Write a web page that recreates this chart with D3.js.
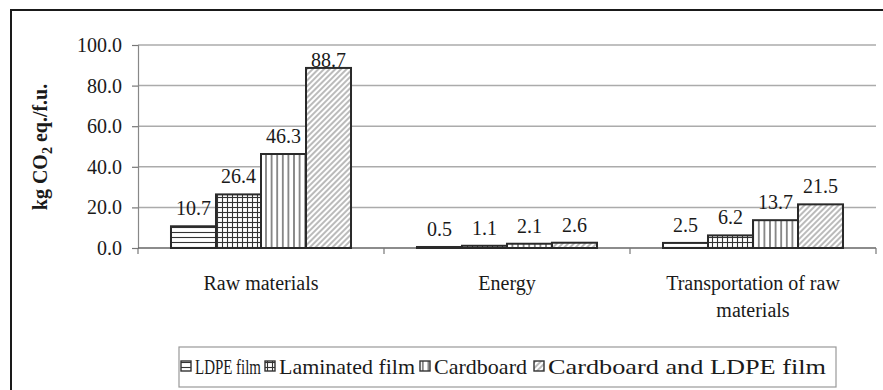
<!DOCTYPE html>
<html><head><meta charset="utf-8">
<script src="https://cdn.jsdelivr.net/npm/d3@7"></script>
<style>
body{margin:0;background:#fff}
svg{display:block}
text{font-family:"Liberation Serif","Times New Roman",Times,serif;fill:#1a1a1a}
</style>
</head><body>
<svg id="chart" width="883" height="390"></svg>
<script>
// ---- data ----
const categories = ["Raw materials", "Energy", "Transportation of raw materials"];
const categoryLines = [["Raw materials"], ["Energy"], ["Transportation of raw", "materials"]];
const seriesNames = ["LDPE film", "Laminated film", "Cardboard", "Cardboard and LDPE film"];
const ldpeFilm = [10.7, 0.5, 2.5];
const laminatedFilm = [26.4, 1.1, 6.2];
const cardboard = [46.3, 2.1, 13.7];
const cardboardLdpe = [88.7, 2.6, 21.5];
const yTicks = [0, 20, 40, 60, 80, 100];
const yTickLabels = ["0.0", "20.0", "40.0", "60.0", "80.0", "100.0"];

const seriesValues = [ldpeFilm, laminatedFilm, cardboard, cardboardLdpe];
const patternIds = ["pH", "pGrid", "pV", "pDiag"];

// ---- layout ----
const FONT = '"Liberation Serif","Times New Roman",Times,serif';
const plot = {left: 138, right: 876, top: 45, bottom: 248};
const svg = d3.select("#chart");

// patterns
const defs = svg.append("defs");
function pat(id, w, h, draw, transform) {
  const p = defs.append("pattern").attr("id", id).attr("patternUnits", "userSpaceOnUse")
    .attr("width", w).attr("height", h);
  if (transform) p.attr("patternTransform", transform);
  p.append("rect").attr("width", w).attr("height", h).attr("fill", "#fff");
  draw(p);
}
pat("pH", 6, 5, p => p.append("line").attr("x1", 0).attr("x2", 6).attr("y1", 2.5).attr("y2", 2.5).attr("stroke", "#333").attr("stroke-width", 1.1));
pat("pGrid", 5, 5, p => {
  p.append("line").attr("x1", 0).attr("x2", 5).attr("y1", 2.5).attr("y2", 2.5).attr("stroke", "#333").attr("stroke-width", 1.1);
  p.append("line").attr("y1", 0).attr("y2", 5).attr("x1", 2.5).attr("x2", 2.5).attr("stroke", "#333").attr("stroke-width", 1.1);
});
pat("pV", 5.6, 6, p => p.append("line").attr("y1", 0).attr("y2", 6).attr("x1", 2.8).attr("x2", 2.8).attr("stroke", "#333").attr("stroke-width", 1.1));
pat("pDiag", 4, 4, p => p.append("line").attr("y1", 0).attr("y2", 4).attr("x1", 2).attr("x2", 2).attr("stroke", "#777").attr("stroke-width", 1), "rotate(45)");

// outer frame (right/bottom edges run off the picture)
svg.append("rect").attr("x", 11).attr("y", 10).attr("width", 900).attr("height", 400)
  .attr("fill", "none").attr("stroke", "#1a1a1a").attr("stroke-width", 2);

// scales
const x0 = d3.scaleBand().domain(categories).range([plot.left, plot.right]).paddingInner(0).paddingOuter(0);
const x1 = d3.scaleBand().domain(seriesNames).range([0, x0.bandwidth()]).paddingInner(0).paddingOuter(0.733);
const y = d3.scaleLinear().domain([0, 100]).range([plot.bottom, plot.top]);

// gridlines
svg.append("g").selectAll("line").data(yTicks.filter(t => t > 0)).join("line")
  .attr("x1", plot.left).attr("x2", plot.right)
  .attr("y1", d => y(d)).attr("y2", d => y(d))
  .attr("stroke", "#ababab").attr("stroke-width", 1.5);

// y axis
const yAxis = d3.axisLeft(y).tickValues(yTicks).tickSize(6).tickPadding(10)
  .tickFormat((d, i) => yTickLabels[i]);
const gy = svg.append("g").attr("transform", `translate(${plot.left},0)`).call(yAxis)
  .attr("font-family", FONT);
gy.select(".domain").attr("stroke", "#888").attr("stroke-width", 1.2);
gy.selectAll(".tick line").attr("stroke", "#777").attr("stroke-width", 1.2);
gy.selectAll(".tick text").attr("font-size", 20).attr("font-family", FONT).attr("fill", "#1a1a1a");

// x axis
svg.append("line").attr("x1", plot.left).attr("x2", plot.right).attr("y1", plot.bottom).attr("y2", plot.bottom)
  .attr("stroke", "#666").attr("stroke-width", 1.5);
const boundaries = categories.map(c => x0(c)).concat([x0(categories[categories.length - 1]) + x0.bandwidth()]);
svg.append("g").selectAll("line").data(boundaries).join("line")
  .attr("x1", d => d).attr("x2", d => d).attr("y1", plot.bottom).attr("y2", plot.bottom + 6)
  .attr("stroke", "#777").attr("stroke-width", 1.2);

// category labels
categories.forEach((c, i) => {
  const cx = x0(c) + x0.bandwidth() / 2;
  const t = svg.append("text").attr("text-anchor", "middle").attr("font-size", 20)
    .attr("font-family", FONT).attr("x", cx).attr("y", 290);
  categoryLines[i].forEach((ln, k) => {
    t.append("tspan").attr("x", cx).attr("dy", k === 0 ? 0 : 27).text(ln);
  });
});

// bars
const barData = [];
seriesNames.forEach((s, si) => {
  categories.forEach((c, ci) => barData.push({s, si, c, v: seriesValues[si][ci]}));
});
svg.append("g").selectAll("rect").data(barData).join("rect")
  .attr("x", d => x0(d.c) + x1(d.s))
  .attr("width", x1.bandwidth())
  .attr("y", d => y(d.v))
  .attr("height", d => y(0) - y(d.v))
  .attr("fill", d => `url(#${patternIds[d.si]})`)
  .attr("stroke", "#2a2a2a").attr("stroke-width", 2);

// value labels
svg.append("g").selectAll("text").data(barData).join("text")
  .attr("text-anchor", "middle").attr("font-size", 20).attr("font-family", FONT)
  .attr("x", d => x0(d.c) + x1(d.s) + x1.bandwidth() / 2)
  .attr("y", d => Math.max(y(d.v) - 11, plot.top + 22))
  .text(d => d.v.toFixed(1));

// y axis title
const yt = svg.append("text").attr("transform", "translate(47,147) rotate(-90)")
  .attr("text-anchor", "middle").attr("font-size", 20).attr("font-weight", "bold").attr("font-family", FONT);
yt.append("tspan").text("kg CO");
yt.append("tspan").attr("font-size", 14).attr("dy", 5).text("2");
yt.append("tspan").attr("dy", -5).text(" eq./f.u.");

// legend
const legendBox = {x: 179, y: 347, w: 657, h: 40};
svg.append("rect").attr("x", legendBox.x).attr("y", legendBox.y).attr("width", legendBox.w).attr("height", legendBox.h)
  .attr("fill", "#fff").attr("stroke", "#999").attr("stroke-width", 1.2);
const legendTextX = [195, 279, 434, 548];
const legendTextLen = [66, 136, 93, 278];
const lg = svg.append("g");
seriesNames.forEach((s, i) => {
  lg.append("rect").attr("x", legendTextX[i] - 14).attr("y", legendBox.y + 14).attr("width", 10).attr("height", 10)
    .attr("fill", `url(#${patternIds[i]})`).attr("stroke", "#333").attr("stroke-width", 1.4);
  lg.append("text").attr("x", legendTextX[i]).attr("y", legendBox.y + 27).attr("font-size", 21)
    .attr("font-family", FONT)
    .attr("textLength", legendTextLen[i]).attr("lengthAdjust", "spacingAndGlyphs").text(s);
});
</script>
</body></html>
